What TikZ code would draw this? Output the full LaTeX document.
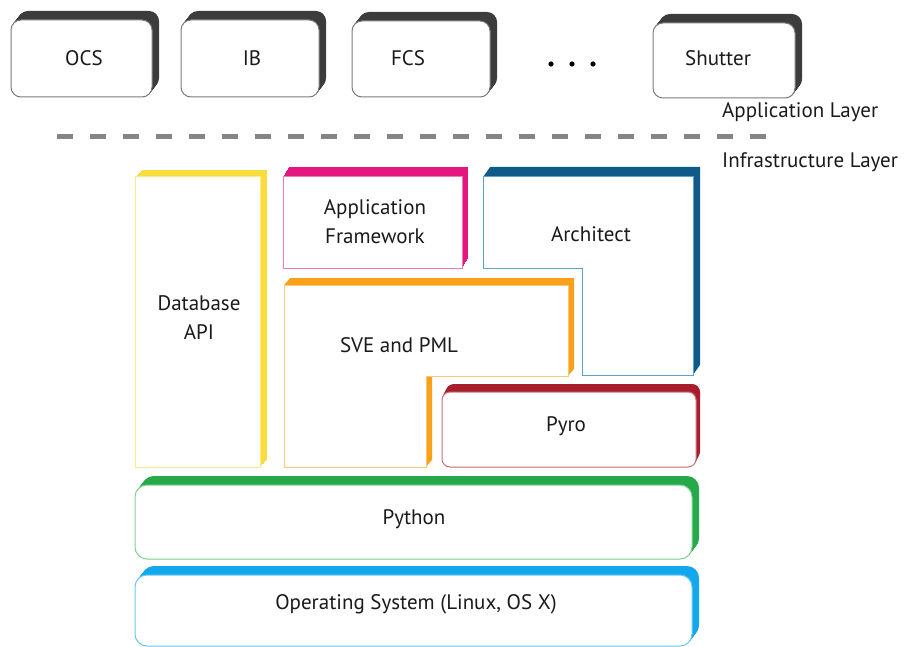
\documentclass[tikz,border=0pt]{standalone}
\usepackage{fontspec}
\setmainfont{PT Sans}
\definecolor{appback}{HTML}{3C3C3C}
\definecolor{appfront}{HTML}{7A7A7A}
\definecolor{dashgray}{HTML}{858585}
\definecolor{ybk}{HTML}{FADD3C}
\definecolor{yfr}{HTML}{FBE98A}
\definecolor{mbk}{HTML}{E3177F}
\definecolor{mfr}{HTML}{EE7CB4}
\definecolor{abk}{HTML}{0F5A86}
\definecolor{afr}{HTML}{5AA3CF}
\definecolor{obk}{HTML}{F9A11B}
\definecolor{ofr}{HTML}{FBC777}
\definecolor{rbk}{HTML}{A91E2C}
\definecolor{rfr}{HTML}{CC6F7A}
\definecolor{gbk}{HTML}{27A94A}
\definecolor{gfr}{HTML}{7ED493}
\definecolor{sbk}{HTML}{13A8EC}
\definecolor{sfr}{HTML}{6CC8F2}
\definecolor{txt}{HTML}{1A1A1A}
\newcommand{\slab}[6]{% #1 radius, #2 back colour, #3 front colour, #4 dx, #5 dy, #6 path
  \foreach \k in {0,1,...,20}{%
    \fill[#2, rounded corners=#1, shift={(\k*#4/20,-\k*#5/20)}] #6;}
  \draw[#3, fill=white, line width=1pt, rounded corners=#1] #6;
}
\tikzset{lbl/.style={font=\fontsize{21}{29}\selectfont, text=txt, align=center, inner sep=0pt},
  layerlbl/.style={font=\fontsize{21}{25}\selectfont, text=txt, anchor=west, inner sep=0pt}}
\begin{document}
\begin{tikzpicture}[x=1pt,y=-1pt]
\useasboundingbox (0,0) rectangle (904,647);
% application layer boxes
\slab{10pt}{appback}{appfront}{7}{9}{(11,20) rectangle (152,97)}
\slab{10pt}{appback}{appfront}{7}{9}{(181,20) rectangle (319,97)}
\slab{10pt}{appback}{appfront}{7}{9}{(352,21) rectangle (490,97)}
\slab{10pt}{appback}{appfront}{7}{9}{(653,23) rectangle (795,98)}
\node[lbl] (ocs) at (84,58) {OCS};
\node[lbl] (ib) at (252,58) {IB};
\node[lbl] (fcs) at (408,58) {FCS};
\node[lbl] (shutter) at (718,58) {Shutter};
\foreach \xx [count=\i] in {551,572,593}{\fill (\xx,64) circle (2.6) coordinate (dot\i);}
% separator
\draw[dashgray, line width=5pt, dash pattern=on 16pt off 17pt] (57,137) -- (775,137);
\node[layerlbl] (applayer) at (722,112) {Application Layer};
\node[layerlbl] (infralayer) at (722,162) {Infrastructure Layer};
% infrastructure
\slab{0pt}{ybk}{yfr}{7}{7}{(135,177) rectangle (260,467)}
\slab{0pt}{mbk}{mfr}{6}{10}{(283,177) rectangle (462,268)}
\slab{0pt}{abk}{afr}{7}{10}{(483,177) -- (693,177) -- (693,375) -- (582,375) -- (582,268) -- (483,268) -- cycle}
\slab{0pt}{obk}{ofr}{6}{7}{(284,285) -- (568,285) -- (568,376) -- (426,376) -- (426,467) -- (284,467) -- cycle}
\slab{8pt}{rbk}{rfr}{4}{8}{(442,392) rectangle (696,467)}
\slab{12pt}{gbk}{gfr}{7}{9}{(135,485) rectangle (692,559)}
\slab{12pt}{sbk}{sfr}{7}{9}{(135,575) rectangle (692,646)}
\node[lbl] (db) at (199,318) {Database\\API};
\node[lbl] (af) at (375,222) {Application\\Framework};
\node[lbl] (arch) at (591,234) {Architect};
\node[lbl] (sve) at (399,345) {SVE and PML};
\node[lbl] (pyro) at (566,426) {Pyro};
\node[lbl] (python) at (414,519) {Python};
\node[lbl] (os) at (416,604) {Operating System (Linux, OS X)};
\end{tikzpicture}
\end{document}
